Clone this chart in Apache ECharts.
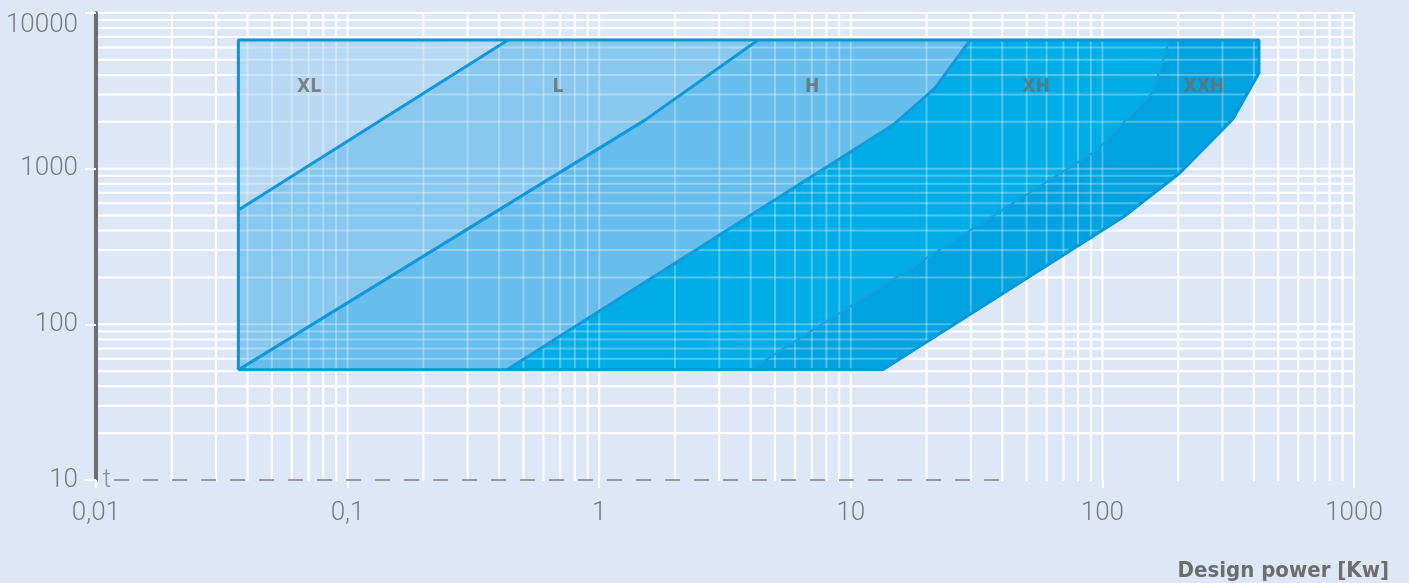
<!DOCTYPE html>
<html><head><meta charset="utf-8">
<script src="https://cdn.jsdelivr.net/npm/echarts@6/dist/echarts.min.js"></script>
<style>html,body{margin:0;padding:0;background:#dee7f5}#c{width:1409px;height:583px}</style>
</head><body><div id="c"></div>
<script>
// ---- data ----
const xTickLabels = ['0,01', '0,1', '1', '10', '100', '1000'];
const yTickLabels = ['10', '100', '1000', '10000'];
const regionNames = ['XL', 'L', 'H', 'XH', 'XXH'];
const labelX = [0.0703, 0.686, 7.02, 54.5, 253];
const labelY = 3340;

const regionXL = [[0.0368, 542], [0.0368, 6700], [0.434, 6700]];
const regionL = [[0.0368, 51], [0.0368, 542], [0.434, 6700], [4.28, 6700], [1.52, 2050]];
const regionH = [[0.0368, 51], [1.52, 2050], [4.28, 6700], [29.8, 6700], [21.6, 3296], [14.7, 1906], [0.43, 51]];
const regionXH = [[0.43, 51], [14.7, 1906], [21.6, 3296], [29.8, 6700], [184, 6700], [159, 3105], [95, 1316], [3.97, 51]];
const regionXXH = [[3.97, 51], [95, 1316], [159, 3105], [184, 6700], [419, 6700], [419, 4110], [330, 2085], [203, 938], [121, 489], [13.4, 51]];

const boundaryXL_L = [[0.0368, 542], [0.434, 6700]];
const boundaryL_H = [[0.0368, 51], [1.52, 2050], [4.28, 6700]];
const boundaryH_XH = [[0.43, 51], [14.7, 1906], [21.6, 3296], [29.8, 6700]];
const boundaryXH_XXH = [[3.97, 51], [95, 1316], [159, 3105], [184, 6700]];
const outline = [[0.0368, 51], [0.0368, 6700], [419, 6700], [419, 4110], [330, 2085], [203, 938], [121, 489], [13.4, 51], [0.0368, 51]];

const baseLine = [[0.0118, 10], [40, 10]];
const unitLabel = 't';

// grid line positions (1..9 per decade)
const gridX = [];
for (let k = -2; k <= 2; k++) for (let m = 1; m <= 9; m++) { if (!(k === -2 && m === 1)) gridX.push(+(m * Math.pow(10, k)).toPrecision(3)); }
gridX.push(1000);
const gridY = [];
for (let k = 1; k <= 3; k++) for (let m = 1; m <= 9; m++) { if (!(k === 1 && m === 1)) gridY.push(+(m * Math.pow(10, k)).toPrecision(3)); }
gridY.push(10000);

// ---- chart ----
const chart = echarts.init(document.getElementById('c'), null, {renderer: 'canvas'});

function gridSeries(op, z) {
  return [{
    type: 'custom', z: z, silent: true, clip: false,
    data: gridX.map(v => [v, 10]),
    renderItem: (params, api) => {
      const v = api.value(0);
      const p1 = api.coord([v, 10]), p2 = api.coord([v, 10000]);
      return {type: 'line', shape: {x1: p1[0], y1: p1[1] + 1, x2: p2[0], y2: p2[1]},
        style: {stroke: '#ffffff', lineWidth: 2, opacity: op}};
    }
  }, {
    type: 'custom', z: z, silent: true, clip: false,
    data: gridY.map(v => [0.01, v]),
    renderItem: (params, api) => {
      const v = api.value(1);
      const p1 = api.coord([0.01, v]), p2 = api.coord([1000, v]);
      return {type: 'line', shape: {x1: p1[0] + 2, y1: p1[1], x2: p2[0], y2: p2[1]},
        style: {stroke: '#ffffff', lineWidth: 2, opacity: op}};
    }
  }];
}

function polySeries(pts, color) {
  return {
    type: 'custom', z: 2, silent: true,
    data: pts,
    renderItem: (params, api) => {
      if (params.dataIndex !== 0) return null;
      return {type: 'polygon', shape: {points: pts.map(p => api.coord(p))}, style: {fill: color}};
    }
  };
}

function lineSeries(pts, color, width, z) {
  return {type: 'line', z: z, silent: true, data: pts, symbol: 'none',
    lineStyle: {color: color, width: width}, animation: false};
}

const labelFont = {color: '#7a7a7a', fontSize: 26, fontFamily: 'Roboto', fontWeight: 300};

const option = {
  backgroundColor: '#dee7f5',
  animation: false,
  grid: {left: 96, right: 55, top: 13, bottom: 103, containLabel: false},
  title: {
    text: 'Design power [Kw]', right: 15, top: 555,
    textStyle: {color: '#6d6d6d', fontSize: 22, fontWeight: 'bold', fontFamily: 'DejaVu Sans Condensed'}
  },
  xAxis: {
    type: 'log', logBase: 10, min: 0.01, max: 1000,
    axisLine: {show: false},
    axisTick: {show: true, length: 8, lineStyle: {color: '#ffffff', width: 2}},
    splitLine: {show: false},
    axisLabel: Object.assign({margin: 20,
      formatter: v => xTickLabels[Math.round(Math.log10(v)) + 2]}, labelFont)
  },
  yAxis: {
    type: 'log', logBase: 10, min: 10, max: 10000,
    axisLine: {show: true, lineStyle: {color: '#6d6e70', width: 4}},
    axisTick: {show: true, length: 11, lineStyle: {color: '#ffffff', width: 2}},
    splitLine: {show: false},
    axisLabel: Object.assign({margin: 18,
      formatter: v => {
        const s = yTickLabels[Math.round(Math.log10(v)) - 1];
        return v >= 10000 ? '{t|' + s + '}' : s;
      },
      rich: {t: Object.assign({padding: [24, 0, 0, 0]}, labelFont)}}, labelFont)
  },
  series: [
    ...gridSeries(1, 1),
    polySeries(regionXL, '#b6d8f2'),
    polySeries(regionL, '#88c8ee'),
    polySeries(regionH, '#67bdeb'),
    polySeries(regionXH, '#00ade6'),
    polySeries(regionXXH, '#00a3df'),
    ...gridSeries(0.3, 3),
    lineSeries(boundaryXL_L, '#1198dc', 3, 4),
    lineSeries(boundaryL_H, '#1198dc', 3, 4),
    lineSeries(boundaryH_XH, '#0f9bdd', 3, 4),
    lineSeries(boundaryXH_XXH, '#1aa0dc', 2, 4),
    lineSeries(outline, '#0697d8', 3, 4),
    {
      type: 'line', z: 4, silent: true, data: baseLine, symbol: 'none',
      lineStyle: {color: '#9a9a9a', width: 2, type: [15, 14]}
    },
    {
      type: 'scatter', z: 5, silent: true, symbolSize: 0,
      data: [{value: baseLine[0], name: unitLabel}],
      label: Object.assign({show: true, position: 'left', distance: 3, formatter: '{b}'}, labelFont)
    },
    {
      type: 'scatter', z: 5, silent: true, symbolSize: 0,
      data: labelX.map((x, i) => ({value: [x, labelY], name: regionNames[i]})),
      label: {show: true, position: 'inside', formatter: '{b}', color: '#6b6b6b',
        fontWeight: 'bold', fontSize: 19, fontFamily: 'DejaVu Sans Condensed'}
    }
  ]
};
chart.setOption(option);
</script>
</body></html>
